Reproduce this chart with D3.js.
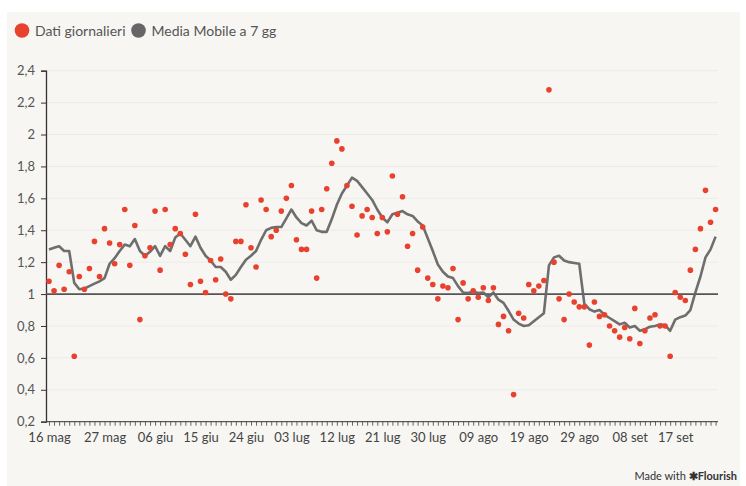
<!DOCTYPE html>
<html>
<head>
<meta charset="utf-8">
<script src="https://cdn.jsdelivr.net/npm/d3@7"></script>
<style>
  body{margin:0;background:#fff;font-family:Lato,"Open Sans",sans-serif;}
</style>
</head>
<body>
<svg id="canvas" width="746" height="486"></svg>
<script>
// first day of the series, one value per day after it
let startDay = "2020-05-16";

let dailyValues = [1.08,1.02,1.18,1.03,1.14,0.61,1.11,1.03,1.16,1.33,
  1.11,1.41,1.32,1.19,1.31,1.53,1.18,1.43,0.84,1.24,
  1.29,1.52,1.15,1.53,1.31,1.41,1.38,1.25,1.06,1.50,
  1.08,1.01,1.21,1.09,1.22,1.00,0.97,1.33,1.33,1.56,
  1.29,1.17,1.59,1.53,1.36,1.40,1.52,1.60,1.68,1.34,
  1.28,1.28,1.52,1.10,1.53,1.66,1.82,1.96,1.91,1.68,
  1.55,1.37,1.49,1.53,1.48,1.38,1.48,1.39,1.74,1.50,
  1.61,1.30,1.38,1.15,1.42,1.10,1.06,0.97,1.05,1.04,
  1.16,0.84,1.07,0.97,1.02,0.98,1.04,0.96,1.04,0.81,
  0.86,0.77,0.37,0.88,0.85,1.06,1.02,1.05,1.085,2.28,
  1.20,0.97,0.84,1.00,0.95,0.92,0.92,0.68,0.95,0.86,
  0.87,0.80,0.77,0.73,0.79,0.72,0.91,0.69,0.77,0.85,
  0.87,0.80,0.80,0.61,1.01,0.98,0.96,1.15,1.28,1.41,
  1.65,1.45,1.53];

let movingAvg = [1.28,1.29,1.30,1.27,1.27,1.07,1.03,1.035,1.05,1.065,
  1.08,1.10,1.19,1.225,1.27,1.31,1.30,1.345,1.27,1.24,
  1.265,1.30,1.24,1.30,1.27,1.355,1.38,1.34,1.30,1.36,
  1.29,1.24,1.21,1.17,1.17,1.14,1.09,1.12,1.17,1.215,
  1.24,1.27,1.34,1.40,1.415,1.42,1.42,1.475,1.53,1.48,
  1.445,1.43,1.46,1.40,1.39,1.39,1.47,1.56,1.63,1.68,
  1.73,1.71,1.67,1.63,1.59,1.53,1.48,1.45,1.50,1.51,
  1.52,1.50,1.49,1.455,1.43,1.35,1.27,1.185,1.14,1.11,
  1.10,1.05,1.01,1.006,1.016,1.006,1.01,0.98,1.01,0.965,
  0.945,0.895,0.84,0.815,0.80,0.805,0.83,0.855,0.88,1.18,
  1.23,1.24,1.21,1.20,1.195,1.19,0.94,0.905,0.89,0.90,
  0.87,0.85,0.83,0.81,0.82,0.79,0.80,0.77,0.78,0.795,
  0.80,0.81,0.805,0.77,0.84,0.855,0.865,0.90,1.01,1.11,
  1.23,1.28,1.36];

let yTicks = [0.2,0.4,0.6,0.8,1,1.2,1.4,1.6,1.8,2,2.2,2.4];
let xTickDays = ["2020-05-16","2020-05-27","2020-06-06","2020-06-15","2020-06-24",
  "2020-07-03","2020-07-12","2020-07-21","2020-07-30","2020-08-09",
  "2020-08-19","2020-08-29","2020-09-08","2020-09-17"];
let monthNames = ["gen","feb","mar","apr","mag","giu","lug","ago","set","ott","nov","dic"];

let legendItems = [
  {label:"Dati giornalieri", color:"#e8412e"},
  {label:"Media Mobile a 7 gg", color:"#666666"}
];

let parseDay = d3.utcParse("%Y-%m-%d");
let day0 = parseDay(startDay);
let days = dailyValues.map((v,i)=>d3.utcDay.offset(day0,i));

let canvas = d3.select('#canvas');

canvas.append('rect')
  .attr('x',7).attr('y',12)
  .attr('width',733).attr('height',474)
  .attr('fill','#f7f6f3');

let x = d3.scaleUtc()
  .domain([days[0], days[days.length-1]])
  .range([49, 715.6]);

let y = d3.scaleLinear()
  .domain([0.2, 2.4])
  .range([421.7, 70.7]);

// grid
canvas.append('g')
  .selectAll('line')
  .data(yTicks.filter(t=>t!==0.2 && t!==1))
  .enter()
  .append('line')
  .attr('x1',46).attr('x2',718)
  .attr('y1',d=>y(d)).attr('y2',d=>y(d))
  .attr('stroke','#ecebe6')
  .attr('stroke-width',1);

// y axis
let yAxis = canvas.append('g')
  .attr('transform','translate(46,0)')
  .call(d3.axisLeft(y)
    .tickValues(yTicks)
    .tickSize(5)
    .tickPadding(6)
    .tickFormat(d=>String(+d.toFixed(1)).replace('.',',')));
yAxis.select('.domain').attr('stroke','#333').attr('stroke-width',1.3);
yAxis.selectAll('line').attr('stroke','#333');
yAxis.selectAll('text')
  .attr('fill','#555')
  .style('font-family','Lato, sans-serif')
  .style('font-size','13px');

// x axis, one tick per day
let xAxisTicks = canvas.append('g')
  .attr('transform','translate(0,421.7)')
  .call(d3.axisBottom(x)
    .tickValues(days)
    .tickSize(4)
    .tickFormat(''));
xAxisTicks.select('.domain').remove();
xAxisTicks.selectAll('line').attr('stroke','#444').attr('stroke-width',0.8);

canvas.append('line')
  .attr('x1',46).attr('x2',718)
  .attr('y1',421.7).attr('y2',421.7)
  .attr('stroke','#333').attr('stroke-width',1);

let xAxisLabels = canvas.append('g')
  .attr('transform','translate(0,421.7)')
  .call(d3.axisBottom(x)
    .tickValues(xTickDays.map(parseDay))
    .tickSize(0)
    .tickPadding(11)
    .tickFormat(d=>d3.utcFormat('%d')(d)+' '+monthNames[d.getUTCMonth()]));
xAxisLabels.select('.domain').remove();
xAxisLabels.selectAll('text')
  .attr('fill','#444')
  .style('font-family','Lato, sans-serif')
  .style('font-size','13px');

// reference line at 1
canvas.append('line')
  .attr('x1',46).attr('x2',718)
  .attr('y1',y(1)).attr('y2',y(1))
  .attr('stroke','#555').attr('stroke-width',1.8);

// moving average
canvas.append('path')
  .datum(movingAvg)
  .attr('d',d3.line()
    .x((d,i)=>x(days[i]))
    .y(d=>y(d)))
  .attr('fill','none')
  .attr('stroke','#666')
  .attr('stroke-opacity',0.95)
  .attr('stroke-width',2.6)
  .attr('stroke-linejoin','round');

// daily dots
canvas.append('g')
  .selectAll('circle')
  .data(dailyValues)
  .enter()
  .append('circle')
  .attr('cx',(d,i)=>x(days[i]))
  .attr('cy',d=>y(d))
  .attr('r',2.8)
  .attr('fill','#e8412e');

// legend
let legend = canvas.append('g');
let lx = 22;
legendItems.forEach((item)=>{
  legend.append('circle')
    .attr('cx',lx).attr('cy',30.5).attr('r',7.3)
    .attr('fill',item.color);
  let t = legend.append('text')
    .attr('x',lx+13).attr('y',35.5)
    .attr('fill','#555')
    .style('font-family','Lato, sans-serif')
    .style('font-size','14px')
    .text(item.label);
  lx += 13 + t.node().getComputedTextLength() + 13;
});

// footer
let foot = canvas.append('text')
  .attr('x',737).attr('y',480)
  .attr('text-anchor','end')
  .attr('fill','#333')
  .style('font-family','Lato, sans-serif')
  .style('font-size','11px');
foot.append('tspan').text('Made with ');
foot.append('tspan').style('font-weight','bold').text('\u2731Flourish');
</script>
</body>
</html>
